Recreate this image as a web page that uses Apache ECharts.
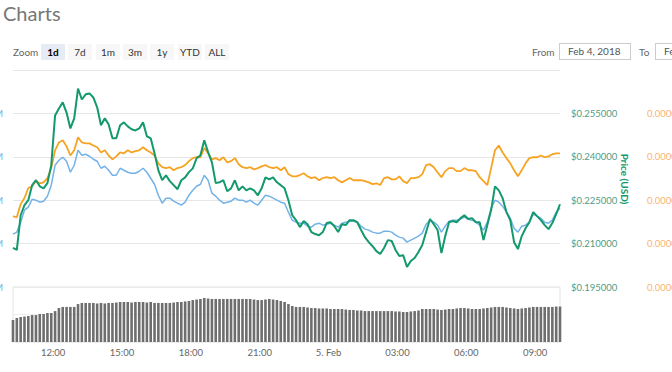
<!DOCTYPE html>
<html><head><meta charset="utf-8">
<script src="https://cdn.jsdelivr.net/npm/echarts@6/dist/echarts.min.js"></script>
<style>
html,body{margin:0;padding:0;background:#fff;width:672px;height:372px;overflow:hidden;font-family:Lato,'Noto Sans',sans-serif;}
#chart{position:absolute;left:0;top:0;width:672px;height:372px;}
.h{position:absolute;white-space:nowrap;}
#title{left:3px;top:3px;font-size:20px;line-height:20px;color:#777;}
#zoomlbl{left:13px;top:45px;font-size:10px;line-height:14px;color:#666;}
.btn{position:absolute;top:44px;height:16px;width:24px;background:#f7f7f7;font-size:10px;color:#333;text-align:center;line-height:16px;}
.btn.sel{background:#e6ebf5;color:#000;font-weight:bold;}
.lbl{position:absolute;top:45px;font-size:10px;line-height:14px;color:#666;}
.inp{position:absolute;top:43px;height:15px;border:1px solid #ccc;font-size:10px;color:#555;line-height:15px;padding-left:8px;box-sizing:content-box;white-space:nowrap;overflow:hidden;}
</style></head>
<body>
<div id="chart"></div>
<div class="h" id="title">Charts</div>
<div class="h" id="zoomlbl">Zoom</div>
<div class="btn sel" style="left:41px">1d</div>
<div class="btn" style="left:68px">7d</div>
<div class="btn" style="left:96px">1m</div>
<div class="btn" style="left:123px">3m</div>
<div class="btn" style="left:150px">1y</div>
<div class="btn" style="left:178px">YTD</div>
<div class="btn" style="left:205px">ALL</div>
<div class="lbl" style="left:532px">From</div>
<div class="inp" style="left:559px;width:62px">Feb 4, 2018</div>
<div class="lbl" style="left:639px">To</div>
<div class="inp" style="left:655px;width:62px">Feb 5, 2018</div>
<script>
// time: minutes since 00:00 on 4 Feb 2018, one sample every 10 minutes
const START_MIN = 615;
const STEP_MIN = 10;

const priceUsd = [0.2085,0.2078,0.2198,0.2233,0.2250,0.2302,0.2319,0.2298,0.2291,0.2309,
 0.2371,0.2543,0.2567,0.2588,0.2553,0.2498,0.2533,0.2636,0.2598,0.2616,
 0.2619,0.2605,0.2571,0.2509,0.2533,0.2512,0.2464,0.2464,0.2509,0.2519,
 0.2505,0.2495,0.2491,0.2498,0.2519,0.2471,0.2464,0.2412,0.2353,0.2319,
 0.2336,0.2316,0.2302,0.2288,0.2319,0.2329,0.2347,0.2360,0.2395,0.2405,
 0.2457,0.2416,0.2381,0.2309,0.2312,0.2319,0.2281,0.2291,0.2319,0.2284,
 0.2298,0.2284,0.2291,0.2284,0.2267,0.2291,0.2329,0.2322,0.2329,0.2312,
 0.2302,0.2291,0.2250,0.2198,0.2181,0.2157,0.2178,0.2167,0.2140,0.2133,
 0.2129,0.2140,0.2171,0.2174,0.2160,0.2140,0.2167,0.2164,0.2181,0.2181,
 0.2174,0.2147,0.2122,0.2105,0.2091,0.2074,0.2064,0.2085,0.2112,0.2109,
 0.2078,0.2057,0.2060,0.2019,0.2040,0.2050,0.2071,0.2095,0.2140,0.2185,
 0.2167,0.2147,0.2067,0.2126,0.2174,0.2178,0.2174,0.2188,0.2198,0.2185,
 0.2188,0.2174,0.2174,0.2112,0.2164,0.2216,0.2298,0.2284,0.2257,0.2209,
 0.2181,0.2105,0.2081,0.2126,0.2153,0.2174,0.2209,0.2195,0.2181,0.2164,
 0.2150,0.2171,0.2202,0.2236];

const marketCapM = [721.8,726.4,749.4,777.0,783.9,802.3,800.0,795.4,797.7,809.2,
 834.5,880.5,892.0,898.9,889.7,864.4,880.5,915.0,903.5,905.8,
 901.2,894.3,889.7,873.6,878.2,869.0,857.5,857.5,873.6,869.0,
 864.4,862.1,862.1,866.7,873.6,864.4,850.6,836.8,811.5,793.1,
 804.6,804.6,797.7,793.1,788.5,795.4,811.5,823.0,832.2,836.8,
 857.5,846.0,816.1,809.2,800.0,793.1,795.4,797.7,804.6,800.0,
 800.0,795.4,800.0,793.1,788.5,800.0,811.5,809.2,804.6,800.0,
 795.4,793.1,772.4,754.0,749.4,747.1,747.1,740.2,737.9,744.8,
 747.1,742.5,744.8,747.1,742.5,737.9,747.1,749.4,751.7,751.7,
 749.4,740.2,733.3,731.0,726.4,724.1,724.1,728.7,728.7,726.4,
 719.5,714.9,712.6,703.4,708.0,712.6,717.2,724.1,744.8,754.0,
 749.4,742.5,726.4,740.2,751.7,754.0,754.0,756.3,760.9,756.3,
 754.0,749.4,742.5,731.0,749.4,781.6,800.0,795.4,786.2,772.4,
 758.6,735.6,726.4,740.2,742.5,749.4,767.8,763.2,758.6,749.4,
 747.1,754.0,772.4,781.6];

const priceBtc = [0.00002563,0.00002561,0.00002591,0.00002605,0.00002628,0.00002632,0.00002644,0.00002639,0.00002641,0.00002651,
 0.00002674,0.00002715,0.00002733,0.00002738,0.00002724,0.00002703,0.00002715,0.00002745,0.00002733,0.00002731,
 0.00002731,0.00002726,0.00002722,0.00002710,0.00002715,0.00002703,0.00002694,0.00002701,0.00002710,0.00002708,
 0.00002715,0.00002710,0.00002713,0.00002715,0.00002722,0.00002715,0.00002710,0.00002703,0.00002685,0.00002676,
 0.00002674,0.00002676,0.00002669,0.00002674,0.00002676,0.00002681,0.00002690,0.00002697,0.00002699,0.00002699,
 0.00002720,0.00002708,0.00002694,0.00002697,0.00002692,0.00002699,0.00002687,0.00002690,0.00002697,0.00002683,
 0.00002676,0.00002674,0.00002676,0.00002671,0.00002674,0.00002678,0.00002681,0.00002676,0.00002674,0.00002676,
 0.00002669,0.00002676,0.00002660,0.00002655,0.00002655,0.00002658,0.00002662,0.00002655,0.00002651,0.00002653,
 0.00002646,0.00002651,0.00002653,0.00002651,0.00002653,0.00002646,0.00002641,0.00002646,0.00002651,0.00002646,
 0.00002646,0.00002646,0.00002644,0.00002641,0.00002637,0.00002639,0.00002635,0.00002651,0.00002653,0.00002648,
 0.00002648,0.00002655,0.00002644,0.00002639,0.00002651,0.00002651,0.00002653,0.00002660,0.00002681,0.00002683,
 0.00002676,0.00002664,0.00002653,0.00002667,0.00002674,0.00002674,0.00002667,0.00002667,0.00002674,0.00002669,
 0.00002669,0.00002667,0.00002653,0.00002644,0.00002635,0.00002674,0.00002715,0.00002726,0.00002710,0.00002697,
 0.00002685,0.00002669,0.00002655,0.00002669,0.00002685,0.00002697,0.00002699,0.00002699,0.00002703,0.00002699,
 0.00002701,0.00002706,0.00002708,0.00002708];

const volumeM = [16.0,17.5,18.2,18.5,18.9,19.6,19.6,20.4,20.4,21.1,
 21.1,22.5,24.7,25.5,25.5,25.5,25.5,27.6,28.4,28.4,
 28.4,28.4,28.0,28.4,28.0,28.4,28.4,28.7,29.1,29.1,
 29.1,28.7,29.1,29.1,29.1,28.7,29.1,28.4,28.4,28.4,
 28.4,28.4,28.7,29.1,29.1,29.5,29.8,30.5,30.9,31.3,
 32.0,31.6,31.3,31.3,31.3,31.3,31.3,31.3,31.3,31.3,
 31.3,31.3,31.3,30.9,30.5,30.5,30.9,31.3,30.9,30.5,
 29.8,29.1,27.6,26.2,25.5,25.5,25.5,25.1,24.7,24.7,
 24.4,24.4,24.4,24.0,24.0,24.0,24.0,23.6,23.3,23.3,
 22.9,22.9,22.5,22.5,22.5,22.5,22.5,22.5,22.5,22.5,
 22.2,22.2,21.8,21.8,22.2,22.5,22.9,24.0,24.0,24.0,
 24.0,23.6,23.3,23.6,24.0,24.0,24.4,24.7,24.7,24.4,
 24.0,24.0,24.0,24.4,24.7,25.1,25.5,25.5,25.5,25.1,
 24.7,24.4,24.0,24.4,24.7,25.1,25.5,25.5,25.5,25.5,
 25.5,25.5,25.8,25.8];

// x tick labels (minutes since 00:00, 4 Feb)
const xTickMinutes = [720, 900, 1080, 1260, 1440, 1620, 1800, 1980];
const xTickLabels = ['12:00','15:00','18:00','21:00','5. Feb','03:00','06:00','09:00'];

const END_MIN = START_MIN + STEP_MIN * (priceUsd.length - 1);
const tOf = i => START_MIN + i * STEP_MIN;
const pair = arr => arr.map((v, i) => [tOf(i), v]);

const C_USD = '#13996c', C_CAP = '#74b3e8', C_BTC = '#f6a322';
const FONT = 'Lato';

const chart = echarts.init(document.getElementById('chart'), null, {renderer: 'svg'});
chart.setOption({
  animation: false,
  grid: [
    {left: 13, right: 112, top: 70, height: 217, containLabel: false, outerBoundsMode: 'none'},
    {left: 13, right: 112, top: 287, height: 55, show: true, borderColor: '#e3e3e3', borderWidth: 1,
     containLabel: false, outerBoundsMode: 'none'}
  ],
  xAxis: [
    {type: 'value', gridIndex: 0, min: START_MIN, max: END_MIN,
     axisLine: {show: false}, axisTick: {show: false}, axisLabel: {show: false}, splitLine: {show: false}},
    {type: 'value', gridIndex: 1, min: START_MIN, max: END_MIN,
     axisLine: {show: false}, axisTick: {show: false}, splitLine: {show: false},
     axisLabel: {customValues: xTickMinutes, color: '#666', fontSize: 9.5, fontFamily: FONT, margin: 5,
       formatter: v => xTickLabels[xTickMinutes.indexOf(v)]}}
  ],
  yAxis: [
    {type: 'value', gridIndex: 0, position: 'right', min: 0.195, max: 0.27, interval: 0.015,
     axisLine: {show: false}, axisTick: {show: false},
     splitLine: {show: true, lineStyle: {color: '#e6e6e6', width: 1}},
     axisLabel: {formatter: v => '$' + v.toFixed(6), color: '#4f9c86', fontSize: 9.5, fontFamily: FONT,
       margin: 11, showMaxLabel: false, padding: [0, 0, 8, 0]}},
    {type: 'value', gridIndex: 0, position: 'right', offset: 76, min: 0.000024, max: 0.000029, interval: 0.000001,
     axisLine: {show: false}, axisTick: {show: false}, splitLine: {show: false},
     axisLabel: {formatter: v => v.toFixed(8), color: '#f8b472', fontSize: 9.5, fontFamily: FONT,
       margin: 11, showMaxLabel: false, padding: [0, 0, 8, 0]}},
    {type: 'value', gridIndex: 0, position: 'left', min: 600, max: 1100, interval: 100,
     axisLine: {show: false}, axisTick: {show: false}, splitLine: {show: false},
     axisLabel: {formatter: v => '$' + v + 'M', color: C_CAP, fontSize: 9.5, fontFamily: FONT,
       margin: 10, showMaxLabel: false, padding: [0, 0, 8, 0]}},
    {type: 'value', gridIndex: 1, min: 0, max: 40, interval: 20,
     axisLine: {show: false}, axisTick: {show: false}, axisLabel: {show: false},
     splitLine: {show: true, lineStyle: {color: '#ececec', width: 1}}}
  ],
  graphic: [
    {type: 'text', x: 625, y: 179, rotation: -Math.PI / 2,
     style: {text: 'Price (USD)', fill: C_USD, font: 'bold 10px Lato', textAlign: 'center', textVerticalAlign: 'middle',
       align: 'center', verticalAlign: 'middle'}}
  ],
  series: [
    {name: 'Volume', type: 'bar', xAxisIndex: 1, yAxisIndex: 3, data: pair(volumeM), barWidth: 2.6,
     itemStyle: {color: '#6e6e6e'}, silent: true},
    {name: 'Market Cap', type: 'line', xAxisIndex: 0, yAxisIndex: 2, data: pair(marketCapM),
     showSymbol: false, lineStyle: {color: C_CAP, width: 1.5}, itemStyle: {color: C_CAP}},
    {name: 'Price (BTC)', type: 'line', xAxisIndex: 0, yAxisIndex: 1, data: pair(priceBtc),
     showSymbol: false, lineStyle: {color: C_BTC, width: 1.8}, itemStyle: {color: C_BTC}},
    {name: 'Price (USD)', type: 'line', xAxisIndex: 0, yAxisIndex: 0, data: pair(priceUsd),
     showSymbol: false, lineStyle: {color: C_USD, width: 2}, itemStyle: {color: C_USD}}
  ]
});
</script>
</body></html>
